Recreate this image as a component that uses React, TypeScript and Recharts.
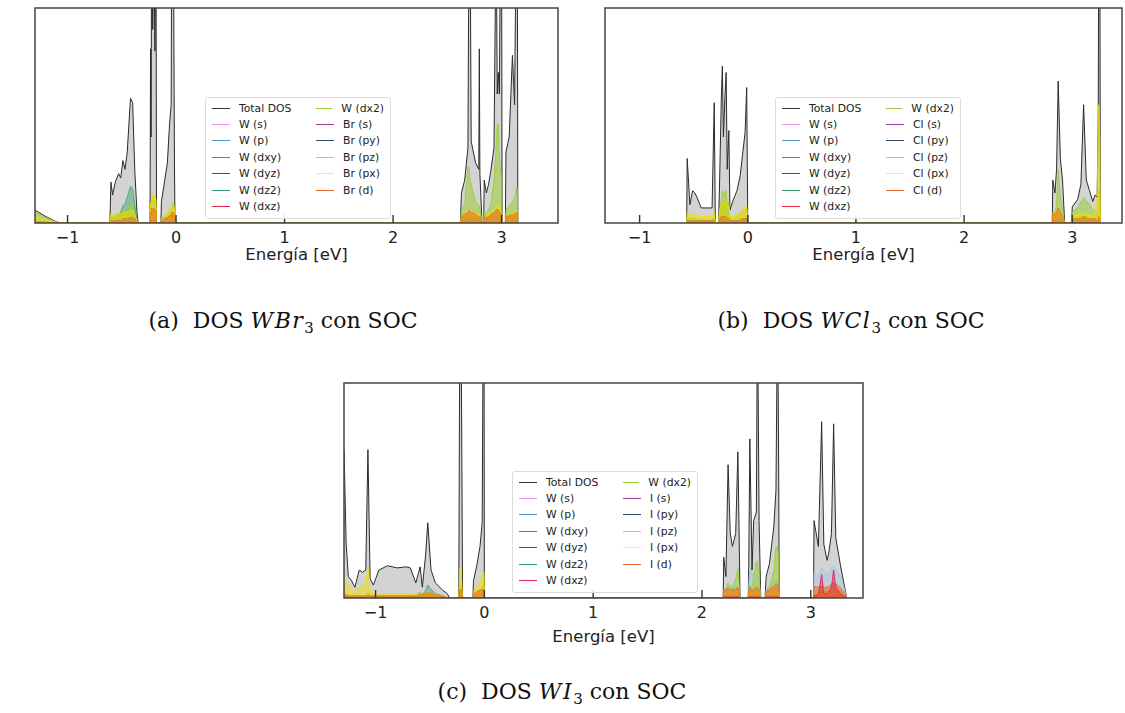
import React from "react";
import { ComposedChart, Area, XAxis, YAxis, ReferenceArea, Legend, Label } from "recharts";

// ---------- (a) WBr3 ----------
const energyA = [
  -1.3, -1.2, -1.1, -1.05,
  -0.61, -0.6, -0.585, -0.56, -0.53, -0.51, -0.49, -0.47, -0.45, -0.42, -0.4, -0.38, -0.36, -0.35,
  -0.24, -0.235, -0.23, -0.225, -0.215, -0.205, -0.195, -0.185, -0.18,
  -0.14, -0.135, -0.11, -0.08, -0.06, -0.045, -0.04, -0.025, -0.015, -0.01,
  2.62, 2.63, 2.66, 2.69, 2.7, 2.71, 2.72, 2.76, 2.79, 2.795, 2.8, 2.82,
  2.835, 2.84, 2.86, 2.88, 2.9, 2.93, 2.95, 2.96, 2.97, 2.98, 2.99, 3.0, 3.005,
  3.035, 3.04, 3.07, 3.1, 3.12, 3.135, 3.145, 3.15,
];
const totalA = [
  0.6, 0.3, 0.05, 0,
  0, 1.9, 1.3, 1.9, 2.3, 2.1, 2.9, 2.5, 3.3, 5.8, 5.6, 2.4, 0.5, 0,
  0, 8.1, 4.0, 14, 9, 14, 8, 14, 0,
  0, 1.0, 1.8, 2.8, 4.6, 5.5, 14, 14, 3, 0,
  0, 1.4, 2.0, 3.5, 14, 14, 3.8, 2.8, 2.5, 8.1, 2.3, 0,
  0, 2.0, 1.4, 1.8, 2.4, 3.5, 14, 6.0, 7.0, 6.0, 14, 14, 0,
  0, 3.3, 4.0, 7.8, 5.5, 14, 14, 0,
];
const dx2A = [
  0.5, 0.25, 0.04, 0,
  0, 0.3, 0.3, 0.4, 0.4, 0.4, 0.5, 0.5, 0.6, 0.8, 0.8, 0.4, 0.1, 0,
  0, 0.6, 0.6, 1.3, 1.0, 1.3, 0.8, 1.0, 0,
  0, 0.2, 0.3, 0.4, 0.6, 0.7, 0.9, 0.9, 0.5, 0,
  0, 0.6, 0.9, 2.6, 2.6, 2.0, 1.8, 1.0, 0.8, 0.8, 0.7, 0,
  0, 0.5, 0.5, 0.6, 0.9, 2.0, 3.5, 4.6, 4.6, 3.0, 2.5, 2.0, 0,
  0, 0.6, 0.8, 1.0, 1.2, 1.6, 1.6, 0,
];
const dz2A = [
  0.1, 0.05, 0, 0,
  0, 0.2, 0.2, 0.3, 0.4, 0.5, 0.8, 0.9, 1.2, 1.7, 1.6, 0.8, 0.2, 0,
  0, 0.3, 0.3, 0.5, 0.4, 0.5, 0.3, 0.4, 0,
  0, 0.1, 0.2, 0.2, 0.3, 0.3, 0.4, 0.4, 0.2, 0,
  0, 0.1, 0.2, 0.3, 0.3, 0.3, 0.2, 0.2, 0.2, 0.2, 0.2, 0,
  0, 0.2, 0.2, 0.3, 0.4, 0.5, 0.6, 0.6, 0.6, 0.5, 0.5, 0.4, 0,
  0, 0.2, 0.3, 0.3, 0.3, 0.3, 0.3, 0,
];
const pxA = [
  0.3, 0.15, 0.02, 0,
  0, 0.4, 0.3, 0.4, 0.5, 0.4, 0.5, 0.5, 0.5, 0.6, 0.6, 0.4, 0.1, 0,
  0, 0.9, 0.8, 1.4, 1.1, 1.3, 1.0, 1.1, 0,
  0, 0.2, 0.3, 0.5, 0.6, 0.7, 1.0, 1.0, 0.6, 0,
  0, 0.3, 0.4, 0.6, 0.6, 0.5, 0.5, 0.4, 0.4, 0.4, 0.3, 0,
  0, 0.3, 0.3, 0.4, 0.5, 0.6, 0.7, 0.8, 0.8, 0.7, 0.6, 0.5, 0,
  0, 0.3, 0.4, 0.5, 0.5, 0.6, 0.6, 0,
];
const dA = [
  0.05, 0.03, 0, 0,
  0, 0.1, 0.1, 0.1, 0.15, 0.1, 0.2, 0.2, 0.2, 0.25, 0.25, 0.2, 0.05, 0,
  0, 0.5, 0.4, 0.7, 0.6, 0.7, 0.5, 0.6, 0,
  0, 0.1, 0.2, 0.25, 0.35, 0.4, 0.5, 0.5, 0.3, 0,
  0, 0.3, 0.4, 0.5, 0.6, 0.5, 0.5, 0.4, 0.3, 0.3, 0.3, 0,
  0, 0.3, 0.25, 0.3, 0.4, 0.5, 0.6, 0.6, 0.6, 0.55, 0.5, 0.4, 0,
  0, 0.3, 0.35, 0.4, 0.4, 0.5, 0.5, 0,
];

// ---------- (b) WCl3 ----------
const energyB = [
  -0.565, -0.56, -0.535, -0.51, -0.49, -0.47, -0.43, -0.33, -0.31, -0.3,
  -0.27, -0.26, -0.245, -0.235, -0.225, -0.21, -0.2, -0.19, -0.175,
  -0.165, -0.14, -0.1, -0.07, -0.05, -0.025, -0.01, 0,
  2.815, 2.82, 2.84, 2.855, 2.87, 2.89, 2.91, 2.93,
  2.995, 3.0, 3.05, 3.08, 3.105, 3.13, 3.16, 3.19, 3.21, 3.23, 3.24, 3.245, 3.255, 3.26,
];
const totalB = [
  0, 3.0, 0.85, 1.5, 1.4, 1.2, 0.7, 0.7, 5.6, 0,
  0, 2.0, 5.7, 7.3, 4.0, 6.0, 7.0, 2.5, 4.3,
  0.6, 1.0, 1.5, 2.2, 3.1, 4.2, 6.3, 0,
  0, 2.0, 1.4, 2.5, 6.6, 3.0, 2.0, 0,
  0, 0.75, 1.1, 1.8, 5.5, 2.0, 1.5, 1.0, 1.3, 1.2, 4.7, 14, 14, 0,
];
const dx2B = [
  0, 0.3, 0.2, 0.2, 0.2, 0.2, 0.15, 0.15, 0.3, 0,
  0, 0.5, 1.0, 1.5, 1.2, 1.5, 1.5, 0.8, 1.0,
  0.2, 0.2, 0.3, 0.4, 0.5, 0.6, 0.7, 0,
  0, 0.5, 0.5, 0.8, 2.5, 1.2, 0.6, 0,
  0, 0.5, 0.7, 1.0, 1.2, 1.0, 0.9, 0.6, 0.6, 0.3, 1.0, 1.5, 1.0, 0,
];
const dz2B = [
  0, 0.1, 0.1, 0.1, 0.1, 0.1, 0.1, 0.1, 0.2, 0,
  0, 0.3, 0.8, 1.0, 0.8, 1.0, 1.0, 0.5, 0.6,
  0.1, 0.1, 0.1, 0.2, 0.2, 0.2, 0.2, 0,
  0, 0.1, 0.1, 0.1, 0.2, 0.1, 0.1, 0,
  0, 0.1, 0.2, 0.3, 0.3, 0.3, 0.2, 0.2, 0.2, 0.1, 0.1, 0.1, 0.1, 0,
];
const pxB = [
  0, 0.5, 0.4, 0.4, 0.4, 0.35, 0.3, 0.3, 0.5, 0,
  0, 0.6, 0.8, 1.0, 0.8, 1.0, 1.0, 0.7, 0.8,
  0.3, 0.3, 0.4, 0.5, 0.6, 0.7, 0.8, 0,
  0, 0.3, 0.3, 0.4, 0.6, 0.4, 0.3, 0,
  0, 0.3, 0.4, 0.4, 0.5, 0.4, 0.4, 0.3, 0.5, 1.0, 4.7, 5.5, 4.0, 0,
];
const dB = [
  0, 0.1, 0.1, 0.1, 0.1, 0.1, 0.1, 0.1, 0.1, 0,
  0, 0.2, 0.3, 0.3, 0.3, 0.3, 0.3, 0.2, 0.2,
  0.1, 0.1, 0.1, 0.1, 0.2, 0.2, 0.2, 0,
  0, 0.4, 0.4, 0.5, 0.7, 0.5, 0.3, 0,
  0, 0.2, 0.2, 0.2, 0.3, 0.2, 0.2, 0.2, 0.2, 0.1, 0.2, 0.3, 0.2, 0,
];

// ---------- (c) WI3 ----------
const energyC = [
  -1.29, -1.27, -1.25, -1.22, -1.19, -1.15, -1.12, -1.09, -1.07, -1.05,
  -1.02, -0.97, -0.89, -0.8, -0.72, -0.68, -0.63, -0.59, -0.57, -0.54,
  -0.52, -0.49, -0.45, -0.38, -0.34, -0.32,
  -0.235, -0.225, -0.215, -0.2,
  -0.105, -0.1, -0.07, -0.04, -0.02, -0.01, -0.003, 0,
  2.195, 2.2, 2.22, 2.24, 2.26, 2.28, 2.31, 2.33, 2.35,
  2.425, 2.43, 2.44, 2.46, 2.475, 2.5, 2.51, 2.525, 2.54,
  2.58, 2.59, 2.62, 2.66, 2.68, 2.695, 2.705, 2.71,
  3.025, 3.03, 3.07, 3.1, 3.12, 3.15, 3.165, 3.19, 3.21, 3.23, 3.27, 3.3, 3.33,
];
const totalC = [
  6.9, 2.5, 1.0, 0.8, 0.5, 1.3, 1.2, 1.3, 6.9, 0.9,
  0.6, 1.3, 1.5, 1.4, 1.45, 1.4, 0.7, 1.45, 0.5, 2.0,
  3.5, 1.3, 0.7, 0.35, 0.2, 0,
  0, 14, 14, 0,
  0, 0.8, 1.5, 2.4, 3.5, 14, 14, 0,
  0, 1.9, 1.0, 6.2, 3.0, 2.4, 3.0, 6.8, 0,
  0, 1.5, 7.4, 1.3, 3.6, 4.0, 14, 3.6, 0,
  0, 1.0, 1.6, 3.3, 5.0, 14, 6.0, 0,
  0, 3.6, 2.4, 8.2, 2.5, 1.75, 2.1, 3.0, 8.1, 2.8, 1.6, 0.8, 0,
];
const dx2C = [
  0.2, 0.2, 0.1, 0.1, 0.1, 0.1, 0.1, 0.1, 0.3, 0.1,
  0.1, 0.1, 0.1, 0.1, 0.1, 0.1, 0.1, 0.2, 0.1, 0.2,
  0.3, 0.2, 0.1, 0.1, 0, 0,
  0, 0.6, 0.6, 0,
  0, 0.2, 0.3, 0.4, 0.5, 0.6, 0.6, 0,
  0, 0.4, 0.4, 0.7, 0.6, 0.5, 0.9, 1.4, 0,
  0, 0.3, 0.6, 0.4, 1.0, 1.7, 1.7, 1.0, 0,
  0, 0.3, 0.5, 1.3, 2.4, 2.4, 1.8, 0,
  0, 0.3, 0.3, 0.4, 0.3, 0.3, 0.3, 0.4, 0.5, 0.4, 0.3, 0.2, 0,
];
const dz2C = [
  0.05, 0.05, 0.05, 0.05, 0.05, 0.05, 0.05, 0.05, 0.05, 0.05,
  0.05, 0.05, 0.05, 0.05, 0.05, 0.05, 0.15, 0.25, 0.15, 0.35,
  0.6, 0.4, 0.2, 0.1, 0, 0,
  0, 0.2, 0.2, 0,
  0, 0.1, 0.1, 0.15, 0.2, 0.2, 0.2, 0,
  0, 0.1, 0.1, 0.15, 0.15, 0.15, 0.15, 0.2, 0,
  0, 0.1, 0.15, 0.1, 0.15, 0.15, 0.15, 0.15, 0,
  0, 0.1, 0.1, 0.15, 0.15, 0.15, 0.15, 0,
  0, 0.1, 0.1, 0.1, 0.1, 0.1, 0.1, 0.1, 0.1, 0.1, 0.1, 0.1, 0,
];
const pxC = [
  0.9, 0.8, 0.6, 0.4, 0.3, 0.5, 0.5, 0.7, 1.4, 0.4,
  0.2, 0.2, 0.2, 0.2, 0.2, 0.2, 0.15, 0.2, 0.15, 0.2,
  0.3, 0.2, 0.15, 0.1, 0, 0,
  0, 1.4, 1.4, 0,
  0, 0.3, 0.5, 0.8, 1.0, 1.2, 1.2, 0,
  0, 0.2, 0.2, 0.3, 0.3, 0.2, 0.2, 0.3, 0,
  0, 0.2, 0.2, 0.2, 0.2, 0.3, 0.3, 0.2, 0,
  0, 0.15, 0.2, 0.3, 0.3, 0.3, 0.2, 0,
  0, 0.2, 0.2, 0.2, 0.2, 0.2, 0.2, 0.2, 0.2, 0.2, 0.2, 0.15, 0,
];
const dC = [
  0.15, 0.15, 0.1, 0.1, 0.1, 0.1, 0.1, 0.1, 0.15, 0.1,
  0.1, 0.1, 0.1, 0.1, 0.1, 0.1, 0.1, 0.15, 0.15, 0.2,
  0.25, 0.2, 0.15, 0.1, 0, 0,
  0, 0.4, 0.4, 0,
  0, 0.2, 0.3, 0.35, 0.4, 0.4, 0.4, 0,
  0, 0.4, 0.4, 0.5, 0.4, 0.4, 0.4, 0.5, 0,
  0, 0.3, 0.5, 0.3, 0.4, 0.5, 0.5, 0.4, 0,
  0, 0.3, 0.4, 0.55, 0.65, 0.65, 0.55, 0,
  0, 0.55, 0.5, 0.55, 0.5, 0.5, 0.55, 0.65, 0.7, 0.65, 0.5, 0.3, 0,
];
const dxzC = [
  0, 0, 0, 0, 0, 0, 0, 0, 0, 0,
  0, 0, 0, 0, 0, 0, 0, 0, 0, 0,
  0, 0, 0, 0, 0, 0,
  0, 0, 0, 0,
  0, 0, 0, 0, 0, 0, 0, 0,
  0, 0.05, 0.05, 0.05, 0.05, 0.05, 0.05, 0.05, 0,
  0, 0.05, 0.05, 0.05, 0.05, 0.05, 0.05, 0.05, 0,
  0, 0.05, 0.05, 0.05, 0.05, 0.05, 0.05, 0,
  0, 0.1, 0.15, 1.1, 0.2, 0.2, 0.3, 0.5, 1.3, 0.5, 0.2, 0.1, 0,
];
const pC = [
  0, 0, 0, 0, 0, 0, 0, 0, 0, 0,
  0, 0, 0, 0, 0, 0, 0, 0, 0, 0,
  0, 0, 0, 0, 0, 0,
  0, 0, 0, 0,
  0, 0, 0, 0, 0, 0, 0, 0,
  0, 0.3, 0.3, 0.4, 0.4, 0.4, 0.5, 0.5, 0,
  0, 0.6, 1.4, 1.0, 1.2, 1.0, 1.0, 0.8, 0,
  0, 0.4, 0.6, 0.8, 0.8, 0.8, 0.6, 0,
  0, 1.2, 1.0, 1.4, 1.2, 1.1, 1.2, 1.4, 1.5, 1.3, 1.0, 0.6, 0,
];

// ---------- legend ----------
const legendW = ["Total DOS", "W (s)", "W (p)", "W (dxy)", "W (dyz)", "W (dz2)", "W (dxz)", "W (dx2)"];
const legendWColors = ["#333333", "#ee8fee", "#4f97cf", "#a5673f", "#55476e", "#2f9e66", "#e0284a", "#9acd32"];
const legendX = ["(s)", "(py)", "(pz)", "(px)", "(d)"];
const legendXColors = ["#9c3d99", "#2f4a66", "#e6b45e", "#eef26a", "#e8692c"];

const xTicks = [-1, 0, 1, 2, 3];
const FONT = "DejaVu Sans, sans-serif";

const fmtTick = (v: number) => (v < 0 ? `\u2212${Math.abs(v)}` : `${v}`);

const InTick = (props: any) => {
  const { x, y, payload } = props;
  return (
    <g>
      <line x1={x} y1={y} x2={x} y2={y - 8} stroke="#333" strokeWidth={1.4} />
      <text x={x} y={y + 14} textAnchor="middle" dominantBaseline="central" fontSize={16} fill="#222" fontFamily={FONT}>
        {fmtTick(payload.value)}
      </text>
    </g>
  );
};

const LegendBox = ({ atom }: { atom: string }) => {
  const items = [
    ...legendW.map((n, i) => ({ name: n, color: legendWColors[i] })),
    ...legendX.map((n, i) => ({ name: `${atom} ${n}`, color: legendXColors[i] })),
  ];
  const cols = [items.slice(0, 7), items.slice(7)];
  return (
    <div
      style={{
        display: "flex",
        background: "rgba(255,255,255,0.85)",
        border: "1px solid #dcdcdc",
        borderRadius: 3,
        padding: "2px 6px 3px 6px",
        fontFamily: FONT,
        fontSize: 10.8,
        color: "#222",
        width: "fit-content",
      }}
    >
      {cols.map((col, ci) => (
        <div key={ci} style={{ width: ci === 0 ? 104 : 68 }}>
          {col.map((it) => (
            <div key={it.name} style={{ display: "flex", alignItems: "center", height: 16.4, whiteSpace: "nowrap" }}>
              <span style={{ display: "inline-block", width: 18, borderTop: `1.5px solid ${it.color}`, marginRight: 9 }} />
              {it.name}
            </div>
          ))}
        </div>
      ))}
    </div>
  );
};

type Part = { key: string; values: number[]; color: string; op: number };

const makeRows = (energy: number[], total: number[], parts: Part[]) =>
  energy.map((e, i) => {
    const row: Record<string, number> = { e, total: total[i] };
    parts.forEach((p) => (row[p.key] = p.values[i]));
    return row;
  });

type PanelProps = {
  width: number;
  height: number;
  margin: { top: number; right: number; bottom: number; left: number };
  domain: [number, number];
  energy: number[];
  total: number[];
  parts: Part[];
  atom: string;
  legendPos: { left: number; top: number };
  xLabelDy: number;
};

const DosPanel = ({ width, height, margin, domain, energy, total, parts, atom, legendPos, xLabelDy }: PanelProps) => {
  const rows = makeRows(energy, total, parts);
  return (
    <ComposedChart width={width} height={height} data={rows} margin={margin}>
      <XAxis
        dataKey="e"
        type="number"
        domain={domain}
        ticks={xTicks}
        allowDataOverflow
        axisLine={false}
        tickLine={false}
        tickSize={0}
        tickMargin={0}
        height={47}
        tick={<InTick />}
        interval={0}
      >
        <Label
          content={(p: any) => {
            const vb = p.viewBox;
            return (
              <text
                x={vb.x + vb.width / 2}
                y={vb.y + xLabelDy}
                textAnchor="middle"
                dominantBaseline="central"
                fontSize={16.5}
                fill="#222"
                fontFamily={FONT}
              >
                Energía [eV]
              </text>
            );
          }}
        />
      </XAxis>
      <YAxis type="number" domain={[0, 10]} allowDataOverflow width={0} axisLine={false} tickLine={false} tick={false}>
        <Label
          content={(p: any) => {
            const vb = p.viewBox;
            const cx = vb.x - 13;
            const cy = vb.y + vb.height / 2;
            return (
              <text
                x={cx}
                y={cy}
                textAnchor="middle"
                dominantBaseline="central"
                transform={`rotate(-90 ${cx} ${cy})`}
                fontSize={16.5}
                fill="#222"
                fontFamily={FONT}
              >
                Densidad de estados [a.u]
              </text>
            );
          }}
        />
      </YAxis>
      <Area
        type="linear"
        dataKey="total"
        stroke="#2b2b2b"
        strokeWidth={1}
        fill="#d3d3d3"
        fillOpacity={1}
        isAnimationActive={false}
        dot={false}
        activeDot={false}
      />
      {parts.map((p) => (
        <Area
          key={p.key}
          type="linear"
          dataKey={p.key}
          stroke={p.color}
          strokeWidth={0.8}
          fill={p.color}
          fillOpacity={p.op}
          isAnimationActive={false}
          dot={false}
          activeDot={false}
        />
      ))}
      <ReferenceArea x1={domain[0]} x2={domain[1]} y1={0} y2={10} fill="none" stroke="#444" strokeWidth={1.5} />
      <Legend
        layout="horizontal"
        verticalAlign="middle"
        align="center"
        wrapperStyle={{ left: legendPos.left, top: legendPos.top, width: "auto" }}
        content={() => <LegendBox atom={atom} />}
      />
    </ComposedChart>
  );
};

const Caption = ({ tag, el, left, top }: { tag: string; el: string; left: number; top: number }) => (
  <div
    style={{
      position: "absolute",
      left,
      top,
      width: 400,
      textAlign: "center",
      fontFamily: "DejaVu Serif, serif",
      fontSize: 22,
      color: "#111",
      whiteSpace: "nowrap",
    }}
  >
    ({tag})&nbsp; DOS <i style={{ letterSpacing: 1.5 }}>W{el}</i>
    <sub style={{ fontSize: 15 }}>3</sub> con SOC
  </div>
);

const partsA: Part[] = [
  { key: "dz2", values: dz2A, color: "#3aa565", op: 0.45 },
  { key: "dx2", values: dx2A, color: "#9acd32", op: 0.55 },
  { key: "px", values: pxA, color: "#f2e000", op: 0.5 },
  { key: "d", values: dA, color: "#f07020", op: 0.6 },
];
const partsB: Part[] = [
  { key: "dz2", values: dz2B, color: "#3aa565", op: 0.45 },
  { key: "dx2", values: dx2B, color: "#9acd32", op: 0.55 },
  { key: "px", values: pxB, color: "#f2e000", op: 0.5 },
  { key: "d", values: dB, color: "#f07020", op: 0.6 },
];
const partsC: Part[] = [
  { key: "p", values: pC, color: "#9cc6ea", op: 0.4 },
  { key: "dz2", values: dz2C, color: "#3aa565", op: 0.45 },
  { key: "dx2", values: dx2C, color: "#9acd32", op: 0.55 },
  { key: "px", values: pxC, color: "#f2e000", op: 0.5 },
  { key: "d", values: dC, color: "#f07020", op: 0.6 },
  { key: "dxz", values: dxzC, color: "#e8174f", op: 0.45 },
];

export default function App() {
  return (
    <div style={{ position: "absolute", left: 0, top: 0, width: 1125, height: 713, background: "#fff", overflow: "hidden" }}>
      <div style={{ position: "absolute", left: 0, top: 0 }}>
        <DosPanel
          width={570}
          height={270}
          margin={{ top: 8, right: 12, bottom: 0, left: 35 }}
          domain={[-1.3, 3.52]}
          energy={energyA}
          total={totalA}
          parts={partsA}
          atom="Br"
          legendPos={{ left: 205, top: 97 }}
          xLabelDy={31}
        />
      </div>
      <div style={{ position: "absolute", left: 570, top: 0 }}>
        <DosPanel
          width={555}
          height={270}
          margin={{ top: 8, right: 3, bottom: 0, left: 35 }}
          domain={[-1.32, 3.46]}
          energy={energyB}
          total={totalB}
          parts={partsB}
          atom="Cl"
          legendPos={{ left: 205, top: 97 }}
          xLabelDy={31}
        />
      </div>
      <div style={{ position: "absolute", left: 300, top: 375 }}>
        <DosPanel
          width={580}
          height={270}
          margin={{ top: 8, right: 17, bottom: 0, left: 44 }}
          domain={[-1.29, 3.48]}
          energy={energyC}
          total={totalC}
          parts={partsC}
          atom="I"
          legendPos={{ left: 212, top: 96 }}
          xLabelDy={38}
        />
      </div>
      <Caption tag="a" el="Br" left={83} top={308} />
      <Caption tag="b" el="Cl" left={651} top={308} />
      <Caption tag="c" el="I" left={362} top={679} />
    </div>
  );
}
